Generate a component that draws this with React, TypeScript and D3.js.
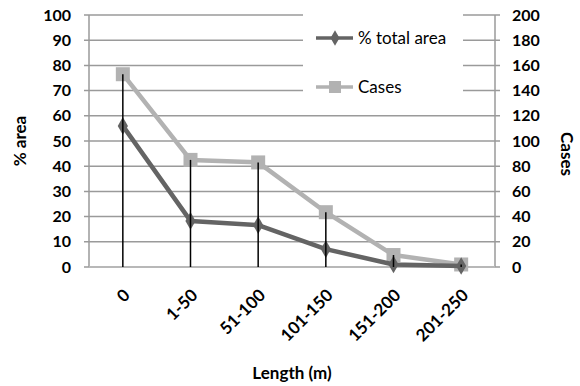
import React from "react";
import * as d3 from "d3";

const categories = ["0", "1-50", "51-100", "101-150", "151-200", "201-250"];
const pctArea = [56, 18.3, 16.6, 7.1, 1.0, 0.4];
const cases = [153, 85, 83, 43.5, 9.5, 2];
const leftTicks = [0, 10, 20, 30, 40, 50, 60, 70, 80, 90, 100];
const rightTicks = [0, 20, 40, 60, 80, 100, 120, 140, 160, 180, 200];

const W = 580, H = 386;
const FONT = "Lato, 'Open Sans', sans-serif";

export default function App() {
  const x = d3.scaleBand<string>().domain(categories).range([89, 495]);
  const yL = d3.scaleLinear().domain([0, 100]).range([267, 15]);
  const yR = d3.scaleLinear().domain([0, 200]).range([267, 15]);
  const cx = (c: string) => (x(c) as number) + x.bandwidth() / 2;

  const areaLine = d3.line<number>().x((_, i) => cx(categories[i])).y((d) => yL(d));
  const casesLine = d3.line<number>().x((_, i) => cx(categories[i])).y((d) => yR(d));

  const gridColor = "#9a9a9a";
  const darkC = "#646464";
  const lightC = "#b2b2b2";

  return (
    <svg width={W} height={H} style={{ position: "absolute", left: 0, top: 0, background: "#fff" }}>
      {/* gridlines */}
      {leftTicks.map((t) => (
        <line key={"g" + t} x1={84} x2={500} y1={yL(t)} y2={yL(t)} stroke={gridColor} strokeWidth={1.5} />
      ))}
      {/* axes */}
      <line x1={89} x2={89} y1={15} y2={267} stroke={gridColor} strokeWidth={1.5} />
      <line x1={495} x2={495} y1={15} y2={267} stroke={gridColor} strokeWidth={1.5} />
      <line x1={89} x2={495} y1={267} y2={267} stroke="#b8b8b8" strokeWidth={2} />

      {/* legend background */}
      <rect x={303} y={12} width={160} height={90} fill="#fff" />
      <line x1={316} x2={353} y1={38} y2={38} stroke={darkC} strokeWidth={3.5} />
      <path d={d3.symbol().type(d3.symbolDiamond).size(70)()!} transform="translate(335,38)" fill={darkC} />
      <text x={358} y={44} fontFamily={FONT} fontSize={17} fill="#000">% total area</text>
      <line x1={316} x2={353} y1={87} y2={87} stroke={lightC} strokeWidth={3.5} />
      <rect x={329} y={81} width={12} height={12} fill={lightC} />
      <text x={358} y={93} fontFamily={FONT} fontSize={17} fill="#000">Cases</text>

      {/* series */}
      <path d={casesLine(cases)!} fill="none" stroke={lightC} strokeWidth={4.5} strokeLinejoin="round" />
      {cases.map((v, i) => (
        <rect key={"s" + i} x={cx(categories[i]) - 7} y={yR(v) - 7} width={14} height={14} fill={lightC} />
      ))}
      <path d={areaLine(pctArea)!} fill="none" stroke={darkC} strokeWidth={4.5} strokeLinejoin="round" />
      {pctArea.map((v, i) => (
        <path key={"d" + i} d={d3.symbol().type(d3.symbolDiamond).size(90)()!}
          transform={`translate(${cx(categories[i])},${yL(v)})`} fill={darkC} />
      ))}
      {/* drop lines */}
      {cases.map((v, i) => (
        <line key={"v" + i} x1={cx(categories[i])} x2={cx(categories[i])} y1={yR(v)} y2={267} stroke="#000" strokeWidth={1.5} />
      ))}

      {/* left tick labels */}
      {leftTicks.map((t) => (
        <text key={"l" + t} x={71} y={yL(t)} dy="0.35em" textAnchor="end" fontFamily={FONT} fontWeight="bold" fontSize={16}>{t}</text>
      ))}
      {/* right tick labels */}
      {rightTicks.map((t) => (
        <text key={"r" + t} x={512} y={yR(t)} dy="0.35em" textAnchor="start" fontFamily={FONT} fontWeight="bold" fontSize={16}>{t}</text>
      ))}
      {/* x tick labels */}
      {categories.map((c) => (
        <text key={"x" + c} transform={`translate(${cx(c) + 4},${292}) rotate(-45)`} textAnchor="end" dy="0.35em"
          fontFamily={FONT} fontWeight="bold" fontSize={17}>{c}</text>
      ))}

      {/* axis titles */}
      <text transform="translate(26,141) rotate(-90)" textAnchor="middle" fontFamily={FONT} fontWeight="bold" fontSize={17}>% area</text>
      <text transform="translate(561,154) rotate(90)" textAnchor="middle" fontFamily={FONT} fontWeight="bold" fontSize={17}>Cases</text>
      <text x={292} y={379} textAnchor="middle" fontFamily={FONT} fontWeight="bold" fontSize={17}>Length (m)</text>
    </svg>
  );
}
